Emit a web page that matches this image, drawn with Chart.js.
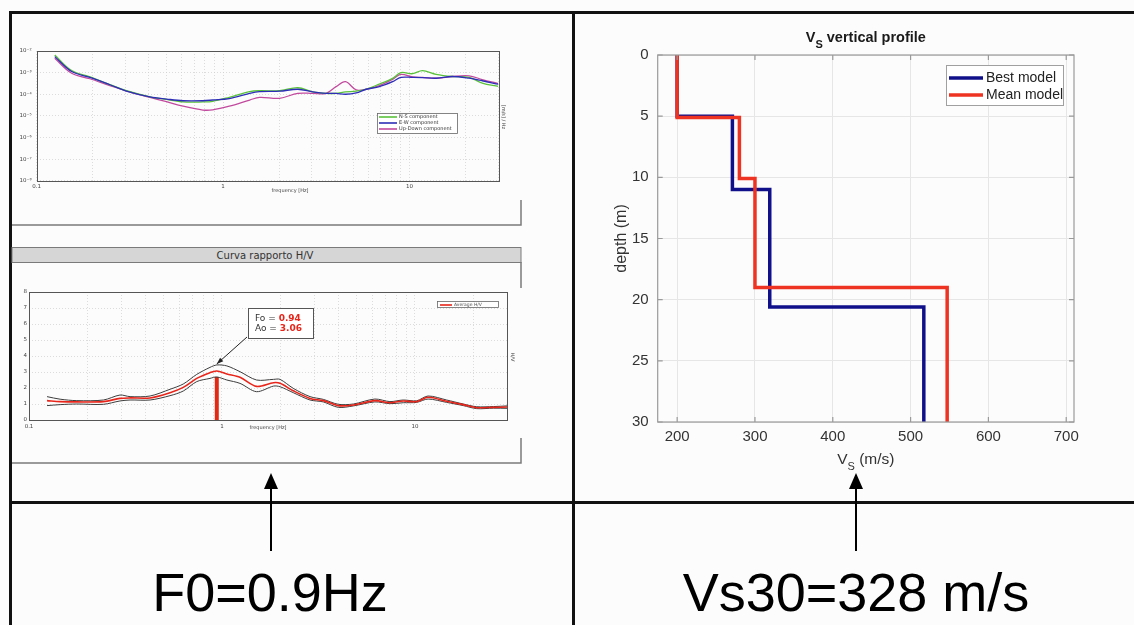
<!DOCTYPE html>
<html>
<head>
<meta charset="utf-8">
<script src="https://cdn.jsdelivr.net/npm/chart.js@4.4.0/dist/chart.umd.min.js"></script>
<style>
  body { margin: 0; background: #fcfcfc; width: 1134px; height: 625px; overflow: hidden; position: relative; }
  svg, canvas { position: absolute; }
  #frame { left: 0; top: 0; }
  #spectra { left: 10px; top: 40px; }
  #hv { left: 10px; top: 280px; }
  #profile { left: 576px; top: 15px; }
</style>
</head>
<body>
<svg id="frame" width="1134" height="625">
  <g stroke="#111" stroke-width="3">
    <line x1="10" y1="12.5" x2="1134" y2="12.5"/>
    <line x1="10.5" y1="11" x2="10.5" y2="625"/>
    <line x1="573.5" y1="11" x2="573.5" y2="625"/>
    <line x1="10" y1="502.5" x2="1134" y2="502.5"/>
  </g>
  <g stroke="#7a7a7a" stroke-width="1.5" fill="none">
    <polyline points="521,200 521,225 12,225"/>
    <line x1="521" y1="262" x2="521" y2="288"/>
    <polyline points="521,438 521,463 12,463"/>
  </g>
  <rect x="12" y="247.5" width="509" height="15" fill="#d6d6d6" stroke="#7a7a7a" stroke-width="1"/>
  <text x="265" y="258.5" text-anchor="middle" font-family="DejaVu Sans" font-size="10" fill="#333">Curva rapporto H/V</text>
  <g stroke="#000" stroke-width="2">
    <line x1="271" y1="551" x2="271" y2="486"/>
    <line x1="856" y1="551" x2="856" y2="486"/>
  </g>
  <g fill="#000">
    <polygon points="271,473 264,489 278,489"/>
    <polygon points="856,473 849,489 863,489"/>
  </g>
  <g font-family="Liberation Sans, Arial, sans-serif" font-size="54" fill="#000" text-anchor="middle">
    <text x="270" y="611">F0=0.9Hz</text>
    <text x="856" y="611">Vs30=328 m/s</text>
  </g>
</svg>
<canvas id="spectra" width="512" height="165"></canvas>
<canvas id="hv" width="512" height="165"></canvas>
<canvas id="profile" width="556" height="480"></canvas>
<script>
// ---- single-component spectra ----
const specFreq = [0.125, 0.154, 0.193, 0.247, 0.303, 0.405, 0.497, 0.61, 0.78, 0.88, 1.08, 1.39, 1.57, 2.01, 2.52, 3.03, 3.57, 4.04, 4.54, 5.18, 5.86, 6.9, 8.13, 9.0, 10.4, 11.75, 13.9, 17.0, 20.9, 24.6, 30];
const nsAmp = [6.5e-3, 1.23e-3, 6.3e-4, 2.8e-4, 1.45e-4, 7.6e-5, 5.75e-5, 4.4e-5, 4.4e-5, 4.7e-5, 7.2e-5, 1.32e-4, 1.45e-4, 1.45e-4, 2.0e-4, 1.29e-4, 1.1e-4, 1.1e-4, 1.29e-4, 1.38e-4, 1.7e-4, 2.95e-4, 5.4e-4, 1.0e-3, 8.9e-4, 1.23e-3, 8.3e-4, 6.6e-4, 6.0e-4, 3.3e-4, 2.3e-4];
const ewAmp = [5.5e-3, 1.12e-3, 6.0e-4, 2.75e-4, 1.41e-4, 7.6e-5, 6.0e-5, 5.0e-5, 5.0e-5, 5.4e-5, 6.3e-5, 1.1e-4, 1.32e-4, 1.38e-4, 1.7e-4, 1.29e-4, 1.1e-4, 1.1e-4, 1.0e-4, 1.15e-4, 1.7e-4, 2.24e-4, 3.8e-4, 6.0e-4, 6.0e-4, 5.9e-4, 5.5e-4, 6.6e-4, 5.5e-4, 4.2e-4, 2.9e-4];
const udAmp = [4.6e-3, 9.3e-4, 5.2e-4, 2.5e-4, 1.41e-4, 7.2e-5, 4.5e-5, 2.8e-5, 1.86e-5, 1.9e-5, 2.8e-5, 5.4e-5, 7.2e-5, 6.5e-5, 1.1e-4, 1.1e-4, 1.1e-4, 2.24e-4, 3.8e-4, 1.58e-4, 1.7e-4, 2.5e-4, 4.9e-4, 8.3e-4, 6.3e-4, 6.0e-4, 5.5e-4, 6.6e-4, 7.1e-4, 4.8e-4, 3.1e-4];
const specNames = ['N-S component', 'E-W component', 'Up-Down component'];
const specColors = ['#5ac23a', '#2d2db8', '#c24a9e'];
const specExponents = [-8, -7, -6, -5, -4, -3, -2];

// ---- H/V ratio ----
const hvFreq = [0.124, 0.145, 0.177, 0.243, 0.296, 0.334, 0.424, 0.538, 0.63, 0.74, 0.867, 0.94, 1.06, 1.24, 1.51, 1.85, 2.0, 2.34, 2.86, 3.35, 4.01, 4.8, 6.2, 7.42, 8.7, 10.2, 11.7, 14.6, 17.8, 20.9, 25.5, 30];
const hvMean = [1.21, 1.15, 1.13, 1.15, 1.35, 1.38, 1.38, 1.71, 2.04, 2.6, 2.96, 3.06, 2.88, 2.67, 2.1, 2.33, 2.29, 1.83, 1.35, 1.21, 0.9, 0.94, 1.21, 1.08, 1.19, 1.15, 1.42, 1.17, 0.96, 0.77, 0.79, 0.81];
const hvUpper = [1.46, 1.3, 1.21, 1.25, 1.56, 1.46, 1.5, 1.92, 2.25, 2.85, 3.29, 3.44, 3.38, 3.02, 2.5, 2.54, 2.54, 1.98, 1.46, 1.29, 0.98, 1.0, 1.31, 1.15, 1.25, 1.2, 1.5, 1.25, 1.0, 0.83, 0.84, 0.88];
const hvLower = [0.9, 0.96, 1.0, 0.98, 1.19, 1.25, 1.25, 1.52, 1.81, 2.4, 2.6, 2.69, 2.5, 2.29, 1.77, 2.12, 2.08, 1.71, 1.25, 1.13, 0.79, 0.88, 1.13, 1.02, 1.08, 1.1, 1.31, 1.1, 0.9, 0.71, 0.74, 0.73];
const f0 = 0.94;
const a0 = 3.06;
const freqLabels = ['0.1', '1', '10'];

// ---- Vs profile (layer tops in m, velocities in m/s) ----
const bestDepth = [0, 5, 11, 20.6, 30];
const bestVs = [200, 271, 319, 517];
const meanDepth = [0, 5.1, 10.1, 19, 30];
const meanVs = [200, 280, 300, 547];
const vsTicks = [200, 300, 400, 500, 600, 700];

Chart.defaults.animation = false;
Chart.defaults.plugins.legend.display = false;
Chart.defaults.plugins.tooltip.enabled = false;
Chart.defaults.elements.point.radius = 0;

const pairs = (xs, ys) => xs.map((x, i) => ({ x, y: ys[i] }));

function stepProfile(depths, vs) {
  const pts = [];
  vs.forEach((v, i) => {
    pts.push({ x: v, y: depths[i] });
    pts.push({ x: v, y: depths[i + 1] });
  });
  return pts;
}

// 0.1..0.9, 1..9, 10, 20, 30
const logGrid = [];
[0.1, 1, 10].forEach(d => {
  for (let m = 1; m <= 9; m++) if (d * m <= 30.0001) logGrid.push(+(d * m).toFixed(2));
});

const SUP = { '-': '\u207B', '0': '\u2070', '1': '\u00B9', '2': '\u00B2', '3': '\u00B3', '4': '\u2074', '5': '\u2075', '6': '\u2076', '7': '\u2077', '8': '\u2078', '9': '\u2079' };
const sup = n => String(n).split('').map(c => SUP[c]).join('');

const tinyFont = { family: 'DejaVu Sans', size: 5.5 };

function freqAxis(height) {
  return {
    type: 'logarithmic', min: 0.1, max: 30,
    afterBuildTicks: s => { s.ticks = logGrid.map(v => ({ value: v })); },
    afterFit: s => { s.height = height; },
    ticks: {
      autoSkip: false, maxRotation: 0, padding: 3, color: '#444', font: tinyFont,
      callback: v => freqLabels.includes(String(v)) ? String(v) : ''
    },
    grid: { color: '#cfcfcf', lineWidth: 0.7, drawTicks: false },
    border: { display: false, dash: [1, 2] }
  };
}

function boxPlugin(color) {
  return {
    id: 'box',
    afterDatasetsDraw(chart) {
      const { ctx, chartArea: a } = chart;
      ctx.save();
      ctx.strokeStyle = color;
      ctx.lineWidth = 1;
      ctx.strokeRect(Math.round(a.left) + 0.5, Math.round(a.top) + 0.5, Math.round(a.right - a.left), Math.round(a.bottom - a.top));
      ctx.restore();
    }
  };
}

function rotatedText(ctx, text, x, y, angle) {
  ctx.save();
  ctx.translate(x, y);
  ctx.rotate(angle);
  ctx.fillText(text, 0, 0);
  ctx.restore();
}

// ---------- spectra ----------
new Chart(document.getElementById('spectra'), {
  type: 'line',
  data: {
    datasets: [ewAmp, nsAmp, udAmp].map((amp, i) => {
      const k = [1, 0, 2][i];
      return {
        label: specNames[k], data: pairs(specFreq, amp),
        borderColor: specColors[k], borderWidth: 1.3, tension: 0.35
      };
    })
  },
  options: {
    responsive: false,
    layout: { padding: { left: 0, right: 23.7, top: 11, bottom: 0 } },
    scales: {
      x: freqAxis(24.3),
      y: {
        type: 'logarithmic', min: 1e-8, max: 1e-2,
        afterBuildTicks: s => { s.ticks = specExponents.map(e => ({ value: Math.pow(10, e) })); },
        afterFit: s => { s.width = 26.7; },
        ticks: {
          autoSkip: false, padding: 5, color: '#444', font: tinyFont,
          callback: v => '10' + sup(Math.round(Math.log10(v)))
        },
        grid: { color: '#cfcfcf', lineWidth: 0.7, drawTicks: false },
        border: { display: false, dash: [1, 2] }
      }
    }
  },
  plugins: [boxPlugin('#555'), {
    id: 'specNotes',
    afterDraw(chart) {
      const { ctx } = chart;
      ctx.save();
      // legend
      ctx.fillStyle = '#fff';
      ctx.strokeStyle = '#666';
      ctx.lineWidth = 0.8;
      ctx.fillRect(367, 73, 80, 20);
      ctx.strokeRect(367.5, 73.5, 80, 20);
      ctx.font = '5px "DejaVu Sans"';
      ctx.textBaseline = 'middle';
      specNames.forEach((name, i) => {
        const y = 77 + i * 6;
        ctx.strokeStyle = specColors[i];
        ctx.lineWidth = 1.6;
        ctx.beginPath(); ctx.moveTo(369, y); ctx.lineTo(387, y); ctx.stroke();
        ctx.fillStyle = '#333';
        ctx.fillText(name, 389, y);
      });
      ctx.fillStyle = '#444';
      ctx.textAlign = 'center';
      ctx.fillText('frequency [Hz]', 280, 151);
      rotatedText(ctx, '[m/s] / Hz', 493, 77, Math.PI / 2);
      ctx.restore();
    }
  }]
});

// ---------- H/V ----------
const i0 = hvFreq.indexOf(f0);
new Chart(document.getElementById('hv'), {
  type: 'line',
  data: {
    datasets: [
      { label: 'Average H/V', data: pairs(hvFreq, hvMean), borderColor: '#e8251a', borderWidth: 1.6, tension: 0.3 },
      { label: 'upper', data: pairs(hvFreq, hvUpper), borderColor: '#3c3c3c', borderWidth: 1, tension: 0.3 },
      { label: 'lower', data: pairs(hvFreq, hvLower), borderColor: '#3c3c3c', borderWidth: 1, tension: 0.3 },
      { label: 'f0', data: [{ x: f0, y: 0 }, { x: f0, y: hvLower[i0] }], borderColor: '#e02a14', borderWidth: 4, borderCapStyle: 'butt' }
    ]
  },
  options: {
    responsive: false,
    layout: { padding: { left: 0, right: 15, top: 12, bottom: 0 } },
    scales: {
      x: freqAxis(25),
      y: {
        type: 'linear', min: 0, max: 8,
        afterFit: s => { s.width = 19; },
        ticks: { stepSize: 1, padding: 2, color: '#444', font: tinyFont },
        grid: { color: '#cfcfcf', lineWidth: 0.7, drawTicks: false },
        border: { display: false, dash: [1, 2] }
      }
    }
  },
  plugins: [boxPlugin('#555'), {
    id: 'hvNotes',
    afterDraw(chart) {
      const { ctx, scales } = chart;
      ctx.save();
      // legend
      ctx.fillStyle = '#fff';
      ctx.strokeStyle = '#666';
      ctx.lineWidth = 0.8;
      ctx.fillRect(427, 22, 61, 6);
      ctx.strokeRect(427.5, 21.5, 61, 6);
      ctx.strokeStyle = '#e8251a';
      ctx.lineWidth = 1.6;
      ctx.beginPath(); ctx.moveTo(430, 25); ctx.lineTo(442, 25); ctx.stroke();
      ctx.fillStyle = '#555';
      ctx.font = '4.5px "DejaVu Sans"';
      ctx.textBaseline = 'middle';
      ctx.fillText('Average H/V', 444, 25);

      // peak annotation
      const tipX = scales.x.getPixelForValue(f0);
      const tipY = scales.y.getPixelForValue(hvUpper[i0]) - 1;
      const sx = 237, sy = 57;
      const ang = Math.atan2(tipY - sy, tipX - sx);
      ctx.strokeStyle = '#222';
      ctx.lineWidth = 1;
      ctx.beginPath(); ctx.moveTo(sx, sy); ctx.lineTo(tipX, tipY); ctx.stroke();
      ctx.fillStyle = '#222';
      ctx.beginPath();
      ctx.moveTo(tipX, tipY);
      ctx.lineTo(tipX - 7 * Math.cos(ang - 0.35), tipY - 7 * Math.sin(ang - 0.35));
      ctx.lineTo(tipX - 7 * Math.cos(ang + 0.35), tipY - 7 * Math.sin(ang + 0.35));
      ctx.closePath(); ctx.fill();

      ctx.fillStyle = '#fff';
      ctx.fillRect(238, 28, 65, 30);
      ctx.strokeStyle = '#555';
      ctx.strokeRect(238.5, 28.5, 65, 30);
      ctx.textBaseline = 'alphabetic';
      [['Fo = ', f0.toFixed(2), 40.7], ['Ao = ', a0.toFixed(2), 50.7]].forEach(([lbl, val, y]) => {
        ctx.font = '9px "DejaVu Sans"';
        ctx.fillStyle = '#333';
        ctx.fillText(lbl, 245, y);
        const w = ctx.measureText(lbl).width;
        ctx.font = 'bold 9px "DejaVu Sans"';
        ctx.fillStyle = '#e8251a';
        ctx.fillText(val, 245 + w, y);
      });

      ctx.fillStyle = '#444';
      ctx.font = '5px "DejaVu Sans"';
      ctx.textAlign = 'center';
      ctx.textBaseline = 'middle';
      ctx.fillText('frequency [Hz]', 258, 148);
      rotatedText(ctx, 'H/V', 502, 77, Math.PI / 2);
      ctx.restore();
    }
  }]
});

// ---------- Vs profile ----------
const FONT = '"Liberation Sans", Arial, sans-serif';
const profileColors = { best: '#10108a', mean: '#ee3322' };

function subscriptText(ctx, cx, baseY, parts) {
  let total = 0;
  parts.forEach(p => {
    ctx.font = `${p.bold ? 'bold ' : ''}${p.size}px ${FONT}`;
    p.w = ctx.measureText(p.t).width;
    total += p.w;
  });
  let x = cx - total / 2;
  parts.forEach(p => {
    ctx.font = `${p.bold ? 'bold ' : ''}${p.size}px ${FONT}`;
    ctx.fillText(p.t, x, baseY + (p.dy || 0));
    x += p.w;
  });
}

new Chart(document.getElementById('profile'), {
  type: 'line',
  data: {
    datasets: [
      { label: 'Mean model', data: stepProfile(meanDepth, meanVs), borderColor: profileColors.mean, borderWidth: 3.5, borderJoinStyle: 'miter', order: 0 },
      { label: 'Best model', data: stepProfile(bestDepth, bestVs), borderColor: profileColors.best, borderWidth: 3.5, borderJoinStyle: 'miter', order: 1 }
    ]
  },
  options: {
    responsive: false,
    layout: { padding: { left: 32, right: 58, top: 40, bottom: 0 } },
    scales: {
      x: {
        type: 'linear', min: 175, max: 710,
        afterBuildTicks: s => { s.ticks = vsTicks.map(v => ({ value: v })); },
        afterFit: s => { s.height = 73; },
        ticks: { autoSkip: false, maxRotation: 0, padding: 6, color: '#333', font: { family: FONT, size: 15 } },
        grid: { color: '#e6e6e6', drawTicks: false },
        border: { display: false }
      },
      y: {
        type: 'linear', min: 0, max: 30, reverse: true,
        afterFit: s => { s.width = 49.7; },
        ticks: { stepSize: 5, padding: 9, color: '#333', font: { family: FONT, size: 15 } },
        grid: { color: '#e6e6e6', drawTicks: false },
        border: { display: false },
        title: { display: true, text: 'depth (m)', color: '#333', font: { family: FONT, size: 16 }, padding: { top: 4, bottom: 0 } }
      }
    }
  },
  plugins: [{
    id: 'profileFrame',
    afterDatasetsDraw(chart) {
      const { ctx, chartArea: a, scales } = chart;
      ctx.save();
      ctx.strokeStyle = '#9a9a9a';
      ctx.lineWidth = 1.2;
      ctx.strokeRect(a.left, a.top, a.right - a.left, a.bottom - a.top);
      ctx.beginPath();
      vsTicks.forEach(v => {
        const x = scales.x.getPixelForValue(v);
        ctx.moveTo(x, a.top); ctx.lineTo(x, a.top + 5);
        ctx.moveTo(x, a.bottom); ctx.lineTo(x, a.bottom - 5);
      });
      scales.y.ticks.forEach(t => {
        const y = scales.y.getPixelForValue(t.value);
        ctx.moveTo(a.left, y); ctx.lineTo(a.left + 5, y);
        ctx.moveTo(a.right, y); ctx.lineTo(a.right - 5, y);
      });
      ctx.stroke();

      // legend
      const lx = 370, ly = 50;
      ctx.fillStyle = '#fff';
      ctx.fillRect(lx, ly, 117, 40);
      ctx.strokeStyle = '#a0a0a0';
      ctx.lineWidth = 1;
      ctx.strokeRect(lx + 0.5, ly + 0.5, 117, 40);
      ctx.font = `14px ${FONT}`;
      ctx.textBaseline = 'middle';
      [['Best model', profileColors.best, 13], ['Mean model', profileColors.mean, 30]].forEach(([name, col, dy]) => {
        ctx.strokeStyle = col;
        ctx.lineWidth = 3.5;
        ctx.beginPath(); ctx.moveTo(lx + 3, ly + dy); ctx.lineTo(lx + 37, ly + dy); ctx.stroke();
        ctx.fillStyle = '#222';
        ctx.fillText(name, lx + 40, ly + dy + 0.5);
      });

      // title and x-axis label with subscripts
      const cx = (a.left + a.right) / 2;
      ctx.fillStyle = '#1a1a1a';
      ctx.textBaseline = 'alphabetic';
      subscriptText(ctx, cx, 26.7, [
        { t: 'V', size: 14.5, bold: true },
        { t: 'S', size: 11, bold: true, dy: 6.5 },
        { t: ' vertical profile', size: 14.5, bold: true }
      ]);
      ctx.fillStyle = '#333';
      subscriptText(ctx, cx, 448.5, [
        { t: 'V', size: 15.5 },
        { t: 'S', size: 11, dy: 6.5 },
        { t: ' (m/s)', size: 15.5 }
      ]);
      ctx.restore();
    }
  }]
});
</script>
</body>
</html>
